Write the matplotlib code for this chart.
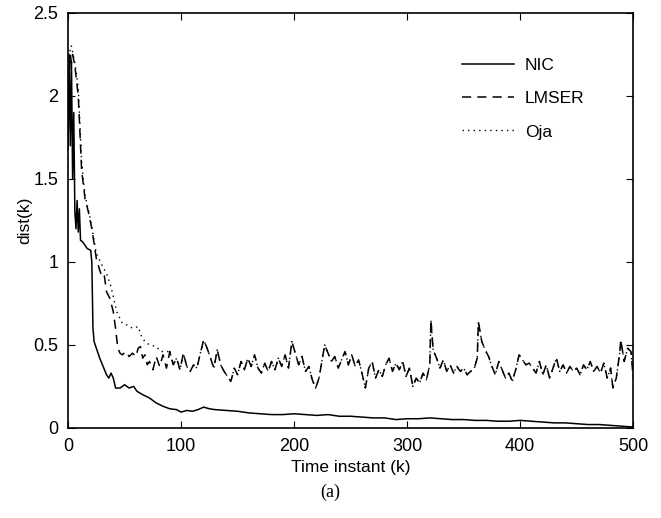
import matplotlib
matplotlib.use("Agg")
import matplotlib.pyplot as plt

plt.rcParams['font.family'] = ['Liberation Sans', 'DejaVu Sans']

# NIC (solid)
nic_k = [0, 1, 2, 3, 4, 5, 6, 7, 8, 9, 10, 11, 13, 15, 17, 20, 21, 22, 23, 25,
         28, 31, 34, 36, 38, 40, 42, 46, 50, 54, 58, 61, 66, 72, 78, 84, 90, 96,
         100, 105, 110, 115, 120, 125, 130, 140, 150, 160, 170, 180, 190, 200,
         210, 220, 230, 240, 250, 260, 270, 280, 290, 300, 310, 320, 330, 340,
         350, 360, 370, 380, 390, 400, 410, 420, 430, 440, 450, 460, 470, 480,
         490, 500]
nic_v = [1.68, 2.25, 1.7, 2.2, 1.5, 1.9, 1.3, 1.2, 1.37, 1.18, 1.32, 1.13, 1.12,
         1.10, 1.08, 1.07, 1.0, 0.6, 0.52, 0.48, 0.42, 0.37, 0.32, 0.30, 0.33,
         0.30, 0.24, 0.24, 0.26, 0.24, 0.25, 0.22, 0.20, 0.18, 0.15, 0.13, 0.115,
         0.11, 0.095, 0.105, 0.10, 0.11, 0.125, 0.115, 0.11, 0.105, 0.10, 0.09,
         0.085, 0.08, 0.08, 0.085, 0.08, 0.075, 0.08, 0.07, 0.07, 0.065, 0.06,
         0.06, 0.05, 0.055, 0.055, 0.06, 0.055, 0.05, 0.05, 0.045, 0.045, 0.04,
         0.04, 0.045, 0.04, 0.035, 0.03, 0.03, 0.025, 0.02, 0.02, 0.015, 0.01,
         0.005]

# LMSER (dashed)
lmser_k = [0, 1, 2, 3, 4, 6, 9, 12, 15, 18, 21, 25, 28, 30, 32, 34, 37, 40, 42,
           44, 46, 48, 51, 54, 57, 60, 62, 64, 66, 68, 70,
           72, 75, 78, 81, 84, 87, 90, 93, 96, 99, 102, 105, 108, 111, 114,
           117, 120, 123, 126, 129, 132, 135, 138, 141, 144, 147, 150, 153,
           156, 159, 162, 165, 168, 171, 174, 177, 180, 183, 186, 189, 192,
           195, 198, 201, 204, 207, 210, 213, 216, 219, 222, 225, 227, 230,
           233, 236, 239, 242, 245, 248, 251, 254, 257, 260, 263, 266, 269,
           272, 275, 278, 281, 284, 287, 290, 293, 296, 299, 302, 305, 308,
           311, 314, 317, 320, 321, 323, 326, 329, 332, 335, 338, 341, 344,
           347, 350, 353, 356, 359, 362, 363, 366, 369, 372, 375, 378, 381,
           384, 387, 390, 393, 396, 399, 402, 405, 408, 411, 414, 417, 420,
           423, 426, 429, 432, 435, 438, 441, 444, 447, 450, 453, 456, 459,
           462, 465, 468, 471, 474, 477, 480, 482, 485, 488, 489, 492, 495,
           498, 500]
lmser_v = [1.7, 2.1, 2.25, 2.2, 2.25, 2.18, 2.0, 1.55, 1.38, 1.3, 1.2, 1.02,
           0.95, 0.91, 0.92, 0.82, 0.78, 0.70, 0.60, 0.48, 0.45, 0.44, 0.46,
           0.43, 0.45, 0.43, 0.48, 0.49, 0.42, 0.44, 0.38,
           0.40, 0.35, 0.43, 0.37, 0.44, 0.36, 0.46, 0.38, 0.42, 0.35, 0.45,
           0.37, 0.34, 0.38, 0.36, 0.45, 0.53, 0.48, 0.42, 0.36, 0.47, 0.38,
           0.34, 0.31, 0.28, 0.36, 0.32, 0.40, 0.35, 0.42, 0.37, 0.44, 0.36,
           0.33, 0.39, 0.34, 0.40, 0.35, 0.42, 0.37, 0.44, 0.36, 0.52, 0.45,
           0.38, 0.43, 0.34, 0.37, 0.29, 0.24, 0.30, 0.42, 0.50, 0.45, 0.40,
           0.43, 0.36, 0.41, 0.46, 0.38, 0.44, 0.37, 0.41, 0.33, 0.24, 0.36,
           0.40, 0.30, 0.35, 0.31, 0.38, 0.42, 0.34, 0.39, 0.35, 0.40, 0.31,
           0.36, 0.25, 0.30, 0.27, 0.33, 0.29, 0.38, 0.65, 0.47, 0.42, 0.36,
           0.41, 0.34, 0.38, 0.33, 0.37, 0.34, 0.36, 0.32, 0.34, 0.35, 0.42,
           0.64, 0.52, 0.47, 0.43, 0.37, 0.32, 0.40, 0.35, 0.30, 0.33, 0.28,
           0.35, 0.44, 0.41, 0.38, 0.39, 0.36, 0.33, 0.40, 0.32, 0.38, 0.30,
           0.36, 0.42, 0.34, 0.38, 0.33, 0.37, 0.34, 0.36, 0.32, 0.38, 0.35,
           0.40, 0.34, 0.37, 0.33, 0.39, 0.30, 0.36, 0.24, 0.30, 0.45, 0.53,
           0.40, 0.48, 0.46, 0.30]

# Oja (dotted): above LMSER early on, same curve after k ~ 90
oja_k_early = [0, 1, 2, 3, 6, 9, 12, 15, 20, 25, 30, 34, 38, 43, 48, 52, 57,
               62, 65, 68, 72, 78, 82, 86, 90]
oja_v_early = [1.7, 2.2, 2.3, 2.3, 2.2, 2.05, 1.6, 1.4, 1.25, 1.05, 0.98, 0.93,
               0.85, 0.70, 0.63, 0.62, 0.60, 0.61, 0.55, 0.52, 0.50, 0.49,
               0.46, 0.46, 0.46]
oja_k = oja_k_early + [k for k in lmser_k if k > 90]
oja_v = oja_v_early + [v for k, v in zip(lmser_k, lmser_v) if k > 90]

fig = plt.figure(figsize=(6.61, 5.18), dpi=100)
ax = fig.add_axes([0.103, 0.174, 0.855, 0.801])

ax.plot(nic_k, nic_v, color='black', linewidth=1.1, label='NIC')
ax.plot(lmser_k, lmser_v, color='black', linewidth=1.1, linestyle=(0, (6, 4)), label='LMSER')
ax.plot(oja_k, oja_v, color='black', linewidth=1.0, linestyle=(0, (1, 3)), label='Oja')

ax.set_xlim(0, 500)
ax.set_ylim(0, 2.5)
ax.set_xticks([0, 100, 200, 300, 400, 500])
ax.set_yticks([0, 0.5, 1, 1.5, 2, 2.5])
ax.set_yticklabels(['0', '0.5', '1', '1.5', '2', '2.5'])
ax.tick_params(direction='in', top=True, right=True, labelsize=13, length=5, pad=7)
for s in ax.spines.values():
    s.set_linewidth(1.2)

ax.set_xlabel('Time instant (k)', fontsize=12.5, labelpad=4)
ax.set_ylabel('dist(k)', fontsize=12.5, labelpad=1)

ax.legend(loc='upper left', bbox_to_anchor=(0.67, 0.93), frameon=False, fontsize=12.5,
          handlelength=3.0, labelspacing=1.05, handletextpad=0.6)

fig.text(0.5, 0.05, '(a)', ha='center', va='center', fontsize=13,
         family=['Liberation Serif', 'DejaVu Serif'])

fig.savefig('out.png')
